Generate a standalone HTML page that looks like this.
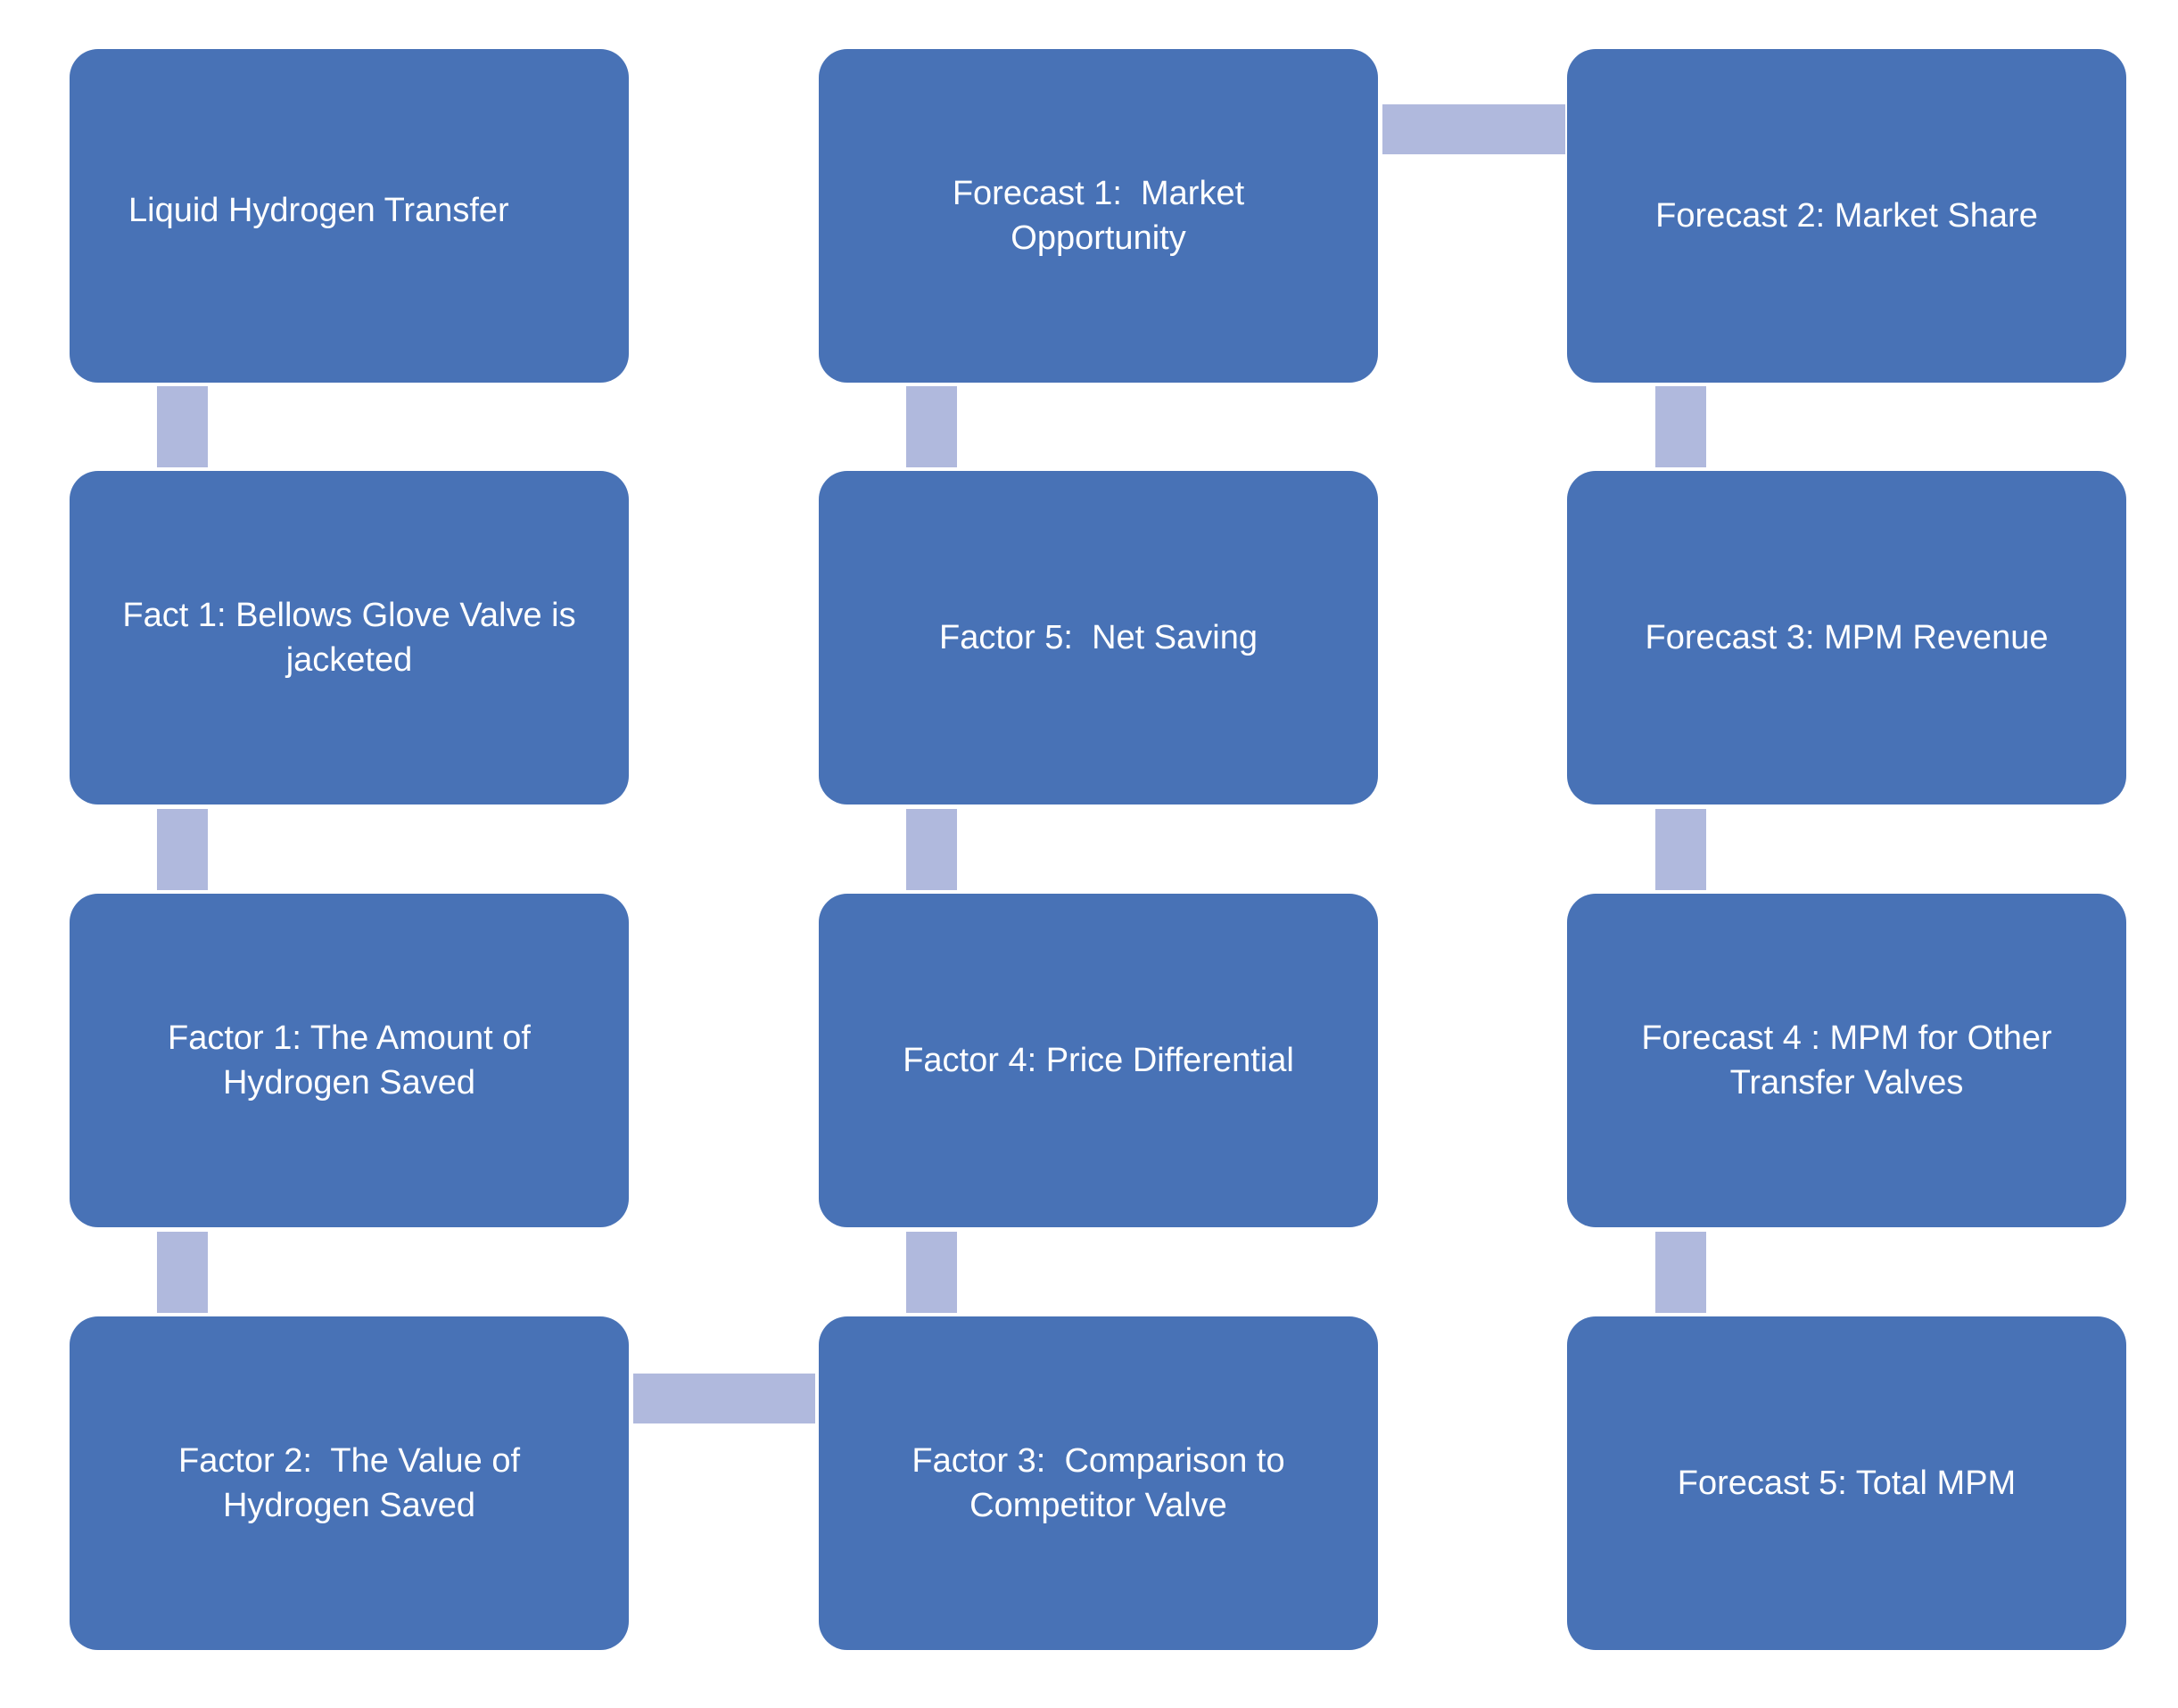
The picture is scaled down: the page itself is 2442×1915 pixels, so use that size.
<!DOCTYPE html>
<html><head><meta charset="utf-8"><style>
html,body{margin:0;padding:0;background:#fff;width:2442px;height:1915px;overflow:hidden;position:relative}
.b{position:absolute;width:627px;height:374px;background:#4872b6;border-radius:32px;display:flex;align-items:center;justify-content:center;text-align:center;color:#fff;font-family:"Liberation Sans",sans-serif;font-size:38px;line-height:50px;box-sizing:border-box;padding:0 30px}
.c{position:absolute;background:#b0b9dd}
</style></head><body>
<div class="b" style="left:78px;top:55px;justify-content:flex-start;padding-left:66px;padding-bottom:12px">Liquid Hydrogen Transfer</div>
<div class="b" style="left:78px;top:528px">Fact 1: Bellows Glove Valve is jacketed</div>
<div class="b" style="left:78px;top:1002px">Factor 1: The Amount of<br>Hydrogen Saved</div>
<div class="b" style="left:78px;top:1476px">Factor 2:&nbsp; The Value of<br>Hydrogen Saved</div>
<div class="b" style="left:918px;top:55px">Forecast 1:&nbsp; Market<br>Opportunity</div>
<div class="b" style="left:918px;top:528px">Factor 5:&nbsp; Net Saving</div>
<div class="b" style="left:918px;top:1002px">Factor 4: Price Differential</div>
<div class="b" style="left:918px;top:1476px">Factor 3:&nbsp; Comparison to<br>Competitor Valve</div>
<div class="b" style="left:1757px;top:55px">Forecast 2: Market Share</div>
<div class="b" style="left:1757px;top:528px">Forecast 3: MPM Revenue</div>
<div class="b" style="left:1757px;top:1002px">Forecast 4 : MPM for Other<br>Transfer Valves</div>
<div class="b" style="left:1757px;top:1476px">Forecast 5: Total MPM</div>
<div class="c" style="left:176px;top:433px;width:57px;height:91px"></div>
<div class="c" style="left:176px;top:907px;width:57px;height:91px"></div>
<div class="c" style="left:176px;top:1381px;width:57px;height:91px"></div>
<div class="c" style="left:1016px;top:433px;width:57px;height:91px"></div>
<div class="c" style="left:1016px;top:907px;width:57px;height:91px"></div>
<div class="c" style="left:1016px;top:1381px;width:57px;height:91px"></div>
<div class="c" style="left:1856px;top:433px;width:57px;height:91px"></div>
<div class="c" style="left:1856px;top:907px;width:57px;height:91px"></div>
<div class="c" style="left:1856px;top:1381px;width:57px;height:91px"></div>
<div class="c" style="left:1550px;top:117px;width:205px;height:56px"></div>
<div class="c" style="left:710px;top:1540px;width:204px;height:56px"></div>
</body></html>
